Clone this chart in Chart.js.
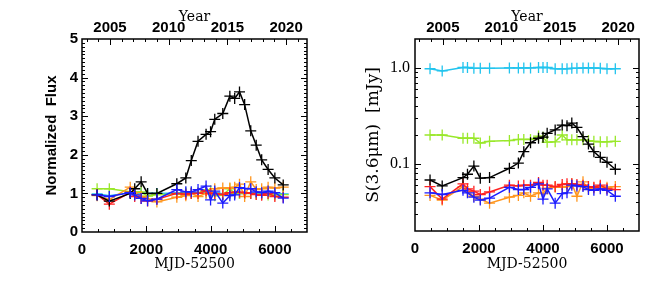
<!DOCTYPE html>
<html>
<head>
<meta charset="utf-8">
<script src="https://cdn.jsdelivr.net/npm/chart.js@4"></script>
<style>
  body { margin: 0; background: #fff; }
  .panel { position: absolute; top: 0; width: 332px; height: 285px; }
</style>
</head>
<body>
<div class="panel" style="left:0"><canvas id="normChart" width="332" height="285"></canvas></div>
<div class="panel" style="left:332px"><canvas id="fluxChart" width="332" height="285"></canvas></div>
<script>
// ==========================
// Data (MJD-52500 epochs)
// ==========================

const mjd = [470, 850, 1500, 1640, 1840, 2040, 2330, 2950, 3230, 3400, 3610, 3860, 4000,
             4130, 4380, 4600, 4750, 4900, 5060, 5250, 5420, 5590, 5790, 6000, 6260];

// normalized flux (left panel)
const normBlack  = [0.96, 0.80, 1.00, 1.12, 1.30, 1.00, 1.00, 1.25, 1.40, 1.85, 2.35, 2.53, 2.60,
                    2.92, 3.07, 3.52, 3.46, 3.63, 3.30, 2.62, 2.25, 1.87, 1.62, 1.40, 1.22];
const normCyan   = [0.99, 0.94, 1.02, 1.02, 1.00, 1.00, 1.00, 1.01, 1.01, 1.01, 1.01, 1.02, 1.02,
                    1.02, 0.99, 0.99, 0.99, 1.00, 1.00, 1.01, 1.01, 1.01, 1.00, 0.99, 0.99];
const normGreen  = [1.12, 1.12, 1.04, 1.04, 1.04, 0.93, 0.97, 0.98, 1.01, 1.01, 1.01, 1.10, 1.07,
                    0.94, 0.96, 1.12, 1.00, 1.00, 1.00, 1.00, 0.98, 0.97, 0.96, 0.96, 0.97];
const normRed    = [0.97, 0.72, 1.03, 0.92, 0.87, 0.80, 0.85, 1.00, 0.98, 1.00, 1.00, 1.07, 1.00,
                    1.00, 0.97, 1.02, 1.03, 1.03, 1.02, 1.00, 0.97, 0.95, 1.00, 0.92, 0.90];
const normOrange = [0.94, 0.84, 1.16, 1.02, 0.92, 0.86, 0.78, 0.90, 0.94, 1.00, 0.92, 1.00, 0.98,
                    1.12, 1.14, 1.14, 1.16, 1.24, 0.92, 1.30, 1.10, 1.12, 1.16, 1.14, 1.16];
const normBlue   = [0.96, 0.92, 1.02, 0.96, 0.87, 0.81, 0.85, 1.10, 1.04, 1.04, 1.10, 1.19, 0.83,
                    1.06, 0.75, 0.94, 0.96, 1.15, 1.13, 1.12, 1.04, 1.02, 1.06, 1.02, 0.88];

// S(3.6um) in mJy (right panel)
const fluxBlack  = [0.068, 0.059, 0.072, 0.078, 0.095, 0.071, 0.072, 0.090, 0.102, 0.134, 0.166, 0.185, 0.190,
                    0.208, 0.226, 0.254, 0.250, 0.266, 0.240, 0.192, 0.161, 0.134, 0.117, 0.104, 0.088];
const fluxCyan   = [0.98, 0.93, 1.01, 1.01, 0.99, 0.99, 0.99, 1.00, 1.00, 1.00, 1.00, 1.01, 1.01,
                    1.01, 0.98, 0.98, 0.98, 0.99, 0.99, 1.00, 1.00, 1.00, 0.99, 0.98, 0.98];
const fluxGreen  = [0.200, 0.200, 0.185, 0.185, 0.185, 0.165, 0.172, 0.175, 0.180, 0.180, 0.180, 0.195, 0.190,
                    0.168, 0.170, 0.200, 0.178, 0.178, 0.178, 0.178, 0.175, 0.172, 0.170, 0.170, 0.172];
const fluxRed    = [0.058, 0.043, 0.062, 0.055, 0.052, 0.048, 0.051, 0.060, 0.059, 0.060, 0.060, 0.064, 0.060,
                    0.060, 0.058, 0.061, 0.062, 0.062, 0.061, 0.060, 0.058, 0.057, 0.060, 0.055, 0.054];
const fluxOrange = [0.047, 0.042, 0.058, 0.051, 0.046, 0.043, 0.039, 0.045, 0.047, 0.050, 0.046, 0.050, 0.049,
                    0.056, 0.057, 0.057, 0.058, 0.062, 0.046, 0.065, 0.055, 0.056, 0.058, 0.057, 0.058];
const fluxBlue   = [0.050, 0.048, 0.053, 0.050, 0.045, 0.042, 0.044, 0.057, 0.054, 0.054, 0.057, 0.062, 0.043,
                    0.055, 0.039, 0.049, 0.050, 0.060, 0.059, 0.058, 0.054, 0.053, 0.055, 0.053, 0.046];

// axis ticks
const mjdTicks  = [0, 2000, 4000, 6000];
const yearTicks = [2005, 2010, 2015, 2020];
const normTicks = [0, 1, 2, 3, 4, 5];
const fluxTicks = [0.1, 1.0];

const MJD_OFFSET = 52500;
const mjdToYear = d => 2000 + (d + MJD_OFFSET - 51544.5) / 365.25;

const colors = {
    black: "#000000", cyan: "#22c4ee", green: "#99e82a",
    red: "#ff2020", orange: "#ff961e", blue: "#1c1cff"
};

// ==========================
// IDL style inward ticks + box
// ==========================

function range(a, b, step) {
    const out = [];
    for (let v = a; v <= b + 1e-9; v += step) out.push(+v.toFixed(4));
    return out;
}

const idlAxes = {
    id: "idlAxes",
    afterDraw(chart, args, opts) {
        const { ctx, chartArea: a, scales } = chart;
        ctx.save();
        ctx.strokeStyle = "#000";
        ctx.lineWidth = 1.5;
        ctx.strokeRect(a.left, a.top, a.right - a.left, a.bottom - a.top);
        ctx.lineWidth = 1;
        ctx.beginPath();
        for (const [v, len] of opts.bottom) {
            const px = Math.round(scales.x.getPixelForValue(v)) + 0.5;
            ctx.moveTo(px, a.bottom); ctx.lineTo(px, a.bottom - len);
        }
        for (const [v, len] of opts.top) {
            const px = Math.round(scales.xTop.getPixelForValue(v)) + 0.5;
            ctx.moveTo(px, a.top); ctx.lineTo(px, a.top + len);
        }
        for (const [v, len] of opts.side) {
            const py = Math.round(scales.y.getPixelForValue(v)) + 0.5;
            ctx.moveTo(a.left, py); ctx.lineTo(a.left + len, py);
            ctx.moveTo(a.right, py); ctx.lineTo(a.right - len, py);
        }
        ctx.stroke();
        ctx.restore();
    }
};

const bottomMarks = range(500, 6500, 500).map(v => [v, v % 2000 === 0 ? 6 : 3]);
const topMarks = range(2003, 2021, 1).map(v => [v, v % 5 === 0 ? 6 : 3]);
const normMarks = range(0.1, 4.9, 0.1).map(v => [v, Math.abs(v - Math.round(v)) < 1e-6 ? 6 : 3]);
const fluxMarks = [0.03, 0.04, 0.05, 0.06, 0.07, 0.08, 0.09, 0.1,
                   0.2, 0.3, 0.4, 0.5, 0.6, 0.7, 0.8, 0.9, 1.0].map(v => [v, (v === 0.1 || v === 1.0) ? 6 : 3]);

// ==========================
// Chart builder
// ==========================

const sansTick = { family: "Liberation Sans, Arial, sans-serif", size: 15, weight: "bold" };
const serifTitle = { family: "DejaVu Serif, serif", size: 14 };
const noGrid = { display: false, drawTicks: false };

function series(values, color, order) {
    return {
        data: mjd.map((d, i) => ({ x: d, y: values[i] })),
        borderColor: color,
        backgroundColor: color,
        borderWidth: 1.5,
        pointStyle: "cross",
        pointRadius: 5.5,
        pointBorderWidth: 1.3,
        order: order,
        clip: false
    };
}

function makeChart(id, sets, yScale, marks, padLeft, yWidth, bottomH) {
    return new Chart(document.getElementById(id), {
        type: "line",
        data: { datasets: sets },
        options: {
            responsive: false,
            animation: false,
            events: [],
            layout: { autoPadding: false, padding: { left: padLeft, right: 25, top: 0, bottom: 0 } },
            plugins: { legend: { display: false }, tooltip: { enabled: false }, idlAxes: marks },
            scales: {
                x: {
                    type: "linear", position: "bottom", min: 0, max: 7000,
                    grid: noGrid, border: { display: false },
                    afterBuildTicks: s => { s.ticks = mjdTicks.map(v => ({ value: v })); },
                    afterFit: s => { s.height = bottomH; },
                    ticks: { color: "#000", font: sansTick, padding: 9, maxRotation: 0, autoSkip: false,
                             callback: v => String(v) },
                    title: { display: true, text: "MJD-52500", color: "#000", font: serifTitle,
                             padding: { top: 0, bottom: 12 } }
                },
                xTop: {
                    type: "linear", position: "top",
                    min: mjdToYear(0), max: mjdToYear(7000),
                    grid: noGrid, border: { display: false },
                    afterBuildTicks: s => { s.ticks = yearTicks.map(v => ({ value: v })); },
                    afterFit: s => { s.height = 39; },
                    ticks: { color: "#000", font: sansTick, padding: 2, maxRotation: 0, autoSkip: false,
                             callback: v => String(v) },
                    title: { display: true, text: "Year", color: "#000", font: serifTitle,
                             padding: { top: 9, bottom: 0 } }
                },
                y: Object.assign({
                    grid: noGrid, border: { display: false },
                    afterFit: s => { s.width = yWidth; }
                }, yScale)
            }
        },
        plugins: [idlAxes]
    });
}

// ==========================
// Left: normalized flux
// ==========================

makeChart("normChart", [
    series(normBlack, colors.black, 1),
    series(normCyan, colors.cyan, 5),
    series(normGreen, colors.green, 4),
    series(normRed, colors.red, 2),
    series(normOrange, colors.orange, 3),
    series(normBlue, colors.blue, 0)
], {
    type: "linear", min: 0, max: 5,
    afterBuildTicks: s => { s.ticks = normTicks.map(v => ({ value: v })); },
    ticks: { color: "#000", font: sansTick, padding: 4, callback: v => String(v) },
    title: { display: true, text: "Normalized  Flux", color: "#000",
             font: { family: "Liberation Sans, Arial, sans-serif", size: 15, weight: "bold" }, padding: 0 }
}, { bottom: bottomMarks, top: topMarks, side: normMarks }, 43, 39, 53);

// ==========================
// Right: S(3.6um) log scale
// ==========================

makeChart("fluxChart", [
    series(fluxBlack, colors.black, 1),
    series(fluxCyan, colors.cyan, 5),
    series(fluxGreen, colors.green, 4),
    series(fluxRed, colors.red, 2),
    series(fluxOrange, colors.orange, 3),
    series(fluxBlue, colors.blue, 0)
], {
    type: "logarithmic", min: 0.02, max: 2.0,
    afterBuildTicks: s => { s.ticks = fluxTicks.map(v => ({ value: v })); },
    ticks: { color: "#000", font: { family: "Liberation Serif, serif", size: 16 }, padding: 5,
             callback: v => Number(v).toFixed(1) },
    title: { display: true, text: "S(3.6\u03bcm)  [mJy]", color: "#000",
             font: { family: "DejaVu Serif, serif", size: 17 }, padding: 0 }
}, { bottom: bottomMarks, top: topMarks, side: fluxMarks }, 31, 52, 54);
</script>
</body>
</html>
